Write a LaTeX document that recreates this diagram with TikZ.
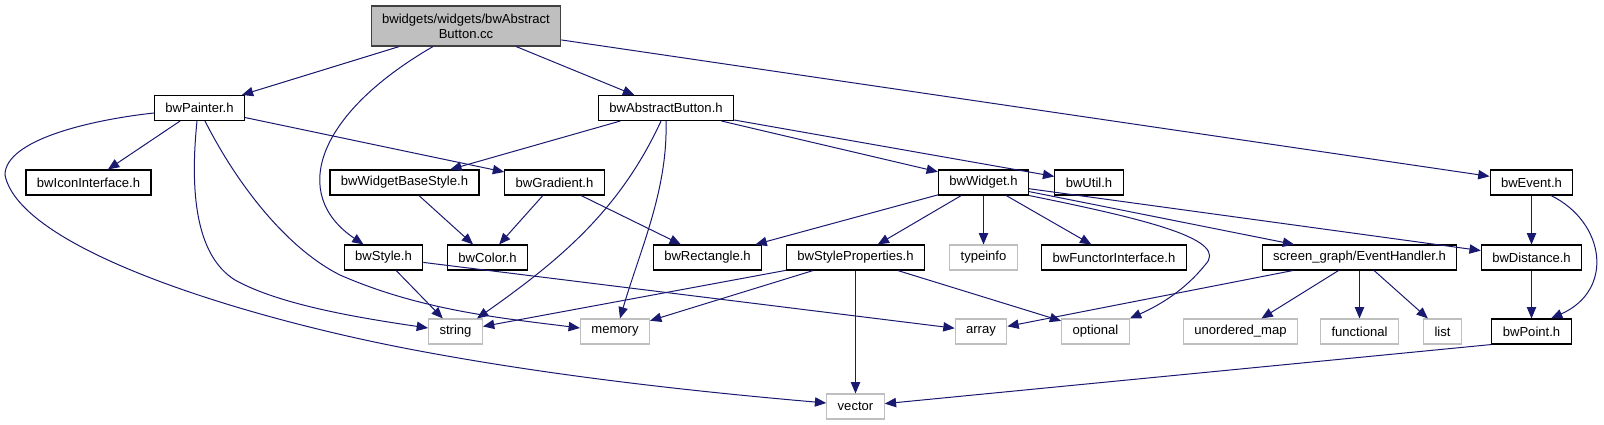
\documentclass[tikz,border=0pt]{standalone}
\usepackage{fontspec}
\setmainfont{Liberation Sans}
\usetikzlibrary{arrows.meta,calc}
\definecolor{edgeblue}{RGB}{25,25,112}
\definecolor{sysgray}{RGB}{191,191,191}
\definecolor{rootgray}{RGB}{191,191,191}
\tikzset{
  hdr/.style={draw=black,line width=0.8pt,fill=white,inner xsep=8.2pt,inner ysep=0pt,
    minimum height=18.75pt,font=\fontsize{9.8}{11.25}\selectfont},
  sys/.style={hdr,draw=sysgray},
  rootnode/.style={hdr,fill=rootgray,draw=black!75,align=center,minimum height=30pt},
  dep/.style={draw=edgeblue,line width=0.75pt,-{Triangle[length=8.5pt,width=7pt]}}
}
\begin{document}
\begin{tikzpicture}[x=0.75pt,y=-0.75pt]
        \useasboundingbox (0,0) rectangle (1604,425);
        \node[rootnode](root)at(466,26){bwidgets/widgets/bwAbstract\\Button.cc};
        \node[hdr](painter)at(199.5,108){bwPainter.h};
        \node[hdr](abtn)at(666,108){bwAbstractButton.h};
        \node[hdr](icon)at(88.5,182.5){bwIconInterface.h};
        \node[hdr](wbs)at(404.5,182.5){bwWidgetBaseStyle.h};
        \node[hdr](grad)at(554.5,182.5){bwGradient.h};
        \node[hdr](widget)at(983.5,182.5){bwWidget.h};
        \node[hdr](util)at(1089,182.5){bwUtil.h};
        \node[hdr](event)at(1531.5,182.5){bwEvent.h};
        \node[hdr](style)at(383.5,257.5){bwStyle.h};
        \node[hdr](color)at(487.5,257.5){bwColor.h};
        \node[hdr](rect)at(707.5,257.5){bwRectangle.h};
        \node[hdr](stprops)at(855.5,257.5){bwStyleProperties.h};
        \node[sys](typeinfo)at(983.5,257.5){typeinfo};
        \node[hdr](functor)at(1114,257.5){bwFunctorInterface.h};
        \node[hdr](evh)at(1359.5,257.5){screen\_graph/EventHandler.h};
        \node[hdr](dist)at(1531.5,257.5){bwDistance.h};
        \node[sys](string)at(455.5,331.5){string};
        \node[sys](memory)at(615,331.5){memory};
        \node[sys](array)at(981,331.5){array};
        \node[sys](optional)at(1095.5,331.5){optional};
        \node[sys](umap)at(1240.5,331.5){unordered\_map};
        \node[sys](functional)at(1359.5,331.5){functional};
        \node[sys](list)at(1442.5,331.5){list};
        \node[hdr](point)at(1531.5,331.5){bwPoint.h};
        \node[sys](vector)at(855.5,406.5){vector};

        \draw[dep](root)--(painter);
        \draw[dep](root)--(abtn);
        \draw[dep](root)--(event);
        \draw[dep]($(root.south)+(-33,0)$) .. controls (315,115) and (290,195) .. ($(style.north)+(-20,0)$);

        \draw[dep](painter)--(icon);
        \draw[dep](painter)--(grad);
        \draw[dep]($(painter.west)+(0,5)$) .. controls (90,120) and (5,140) .. (5,175)
            .. controls (20,250) and (250,320) .. (425,352)
            .. controls (560,377) and (700,392) .. ($(vector.west)+(0,-3.5)$);
        \draw[dep]($(painter.south)+(-2.5,0)$) .. controls (190,190) and (195,255) .. (235,280)
            .. controls (280,305) and (360,318) .. ($(string.west)+(0,-3.5)$);
        \draw[dep]($(painter.south)+(5.5,0)$) .. controls (240,190) and (290,250) .. (340,275)
            .. controls (420,310) and (500,318) .. ($(memory.west)+(0,-3.5)$);

        \draw[dep](abtn)--(wbs);
        \draw[dep](abtn)--(widget);
        \draw[dep](abtn)--(util);
        \draw[dep]($(abtn.south)+(-5,0)$) .. controls (620,210) and (560,260) .. ($(string.north)+(21.5,0)$);
        \draw[dep](abtn.south) .. controls (668,190) and (640,250) .. ($(memory.north)+(5,0)$);

        \draw[dep](wbs)--(color);
        \draw[dep](grad)--(color);
        \draw[dep](grad)--(rect);

        \draw[dep](widget)--(rect);
        \draw[dep](widget)--(stprops);
        \draw[dep](widget)--(typeinfo);
        \draw[dep](widget)--(functor);
        \draw[dep](widget)--(evh);
        \draw[dep](widget)--(dist);
        \draw[dep](widget.south east) .. controls (1150,220) and (1230,240) .. (1205,265)
            .. controls (1185,290) and (1160,305) .. (optional.north east);

        \draw[dep](style)--(string);
        \draw[dep](style)--(array);
        \draw[dep](stprops)--(string);
        \draw[dep](stprops)--(memory);
        \draw[dep](stprops)--(vector);
        \draw[dep](stprops)--(optional);
        \draw[dep](evh)--(array);
        \draw[dep](evh)--(umap);
        \draw[dep](evh)--(functional);
        \draw[dep](evh)--(list);

        \draw[dep](event)--(dist);
        \draw[dep]($(event.south)+(19.5,0)$) .. controls (1605,222) and (1615,290) .. ($(point.north)+(19.5,0)$);
        \draw[dep](dist)--(point);
        \draw[dep](point.south west)--(vector);
    \end{tikzpicture}
\end{document}
